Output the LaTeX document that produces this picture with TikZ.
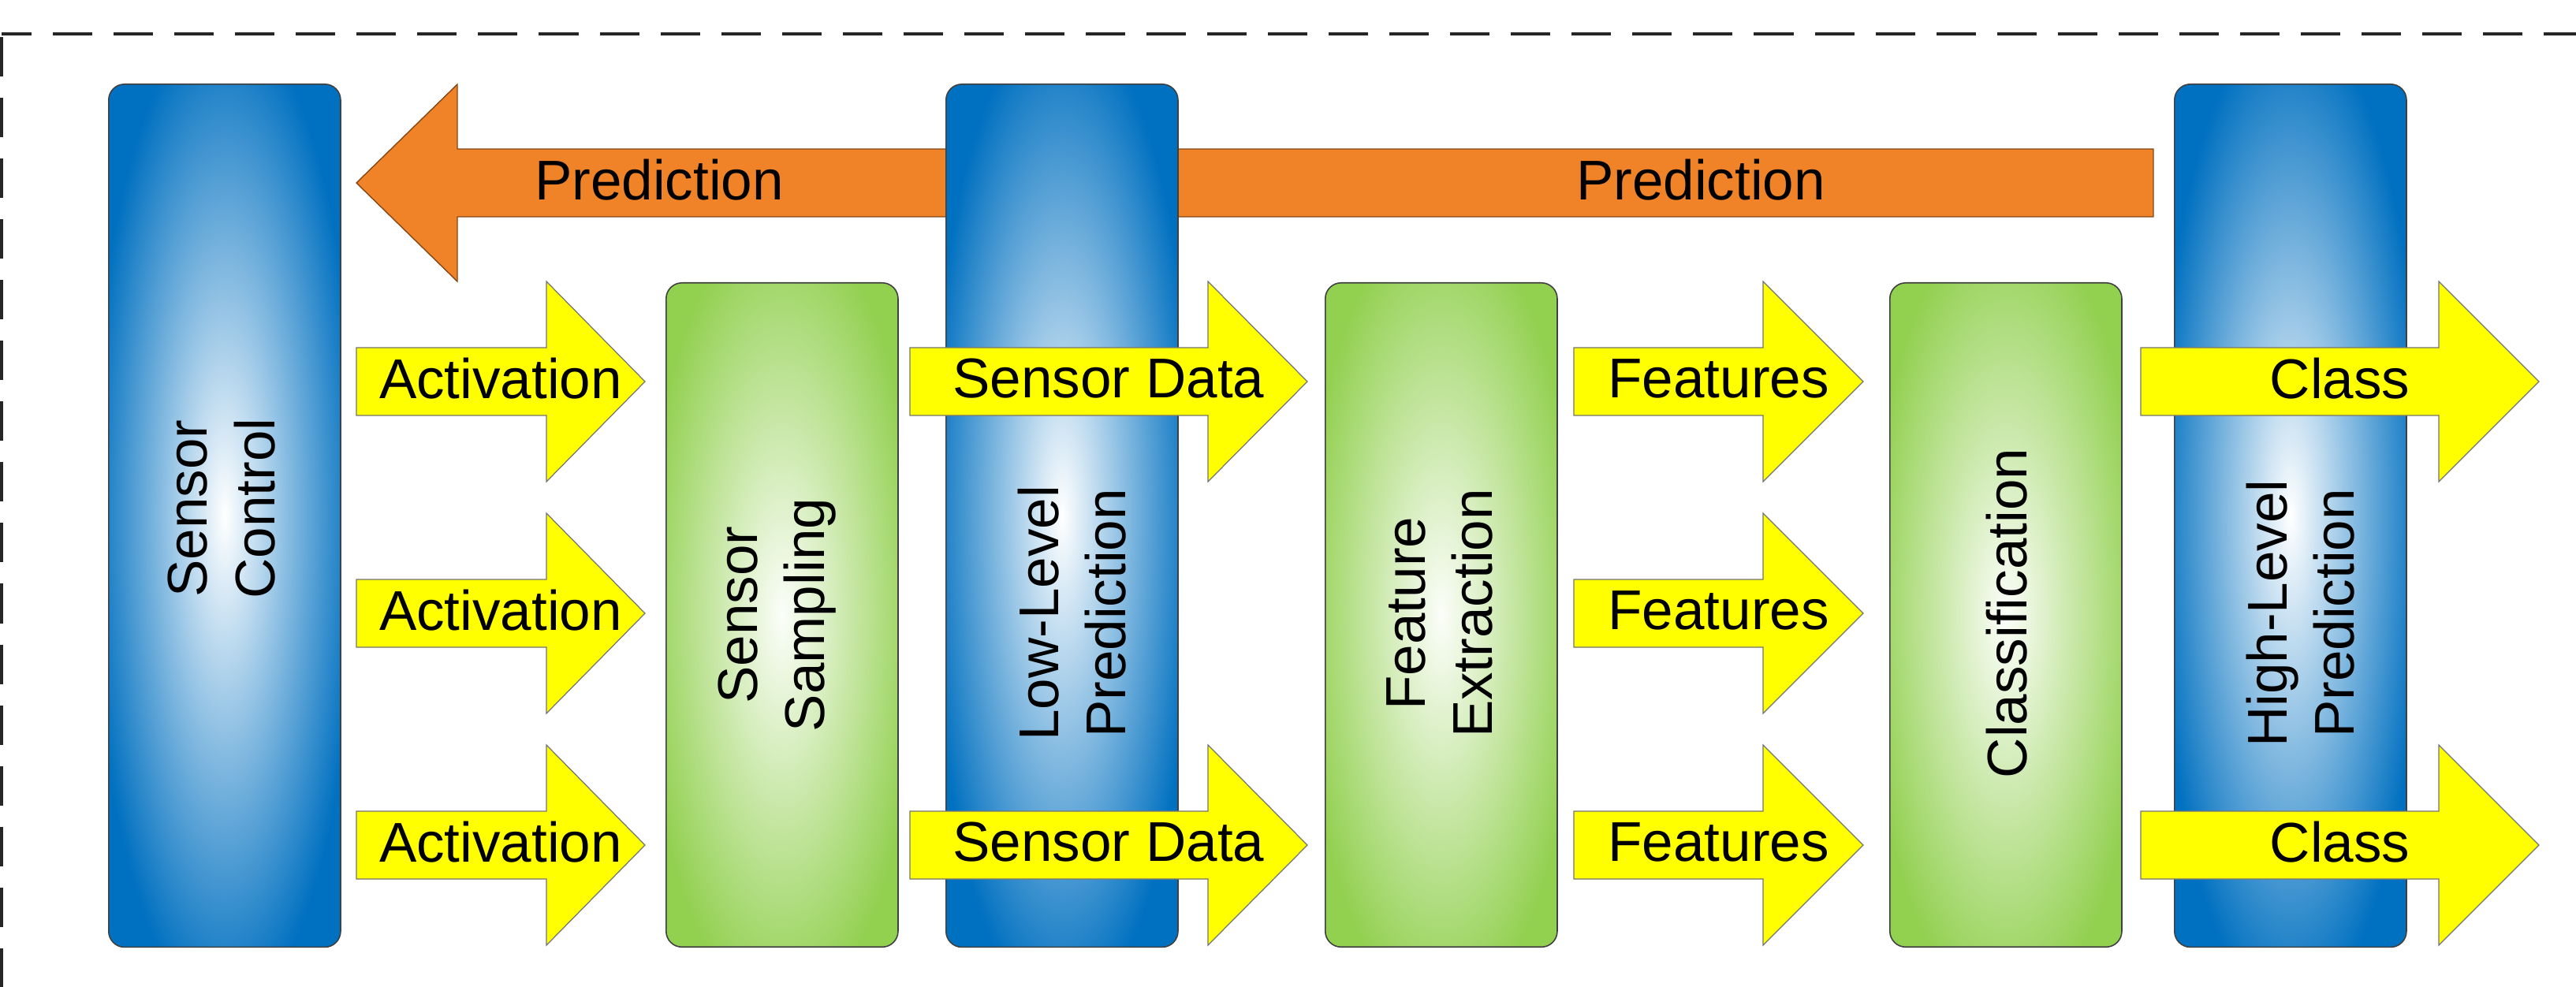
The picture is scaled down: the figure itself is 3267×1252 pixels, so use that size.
\documentclass[tikz,border=0pt]{standalone}
\usepackage{fontspec}
\setmainfont{Liberation Sans}
\definecolor{blueC}{HTML}{0070C0}
\definecolor{greenC}{HTML}{92D050}
\definecolor{orangeC}{HTML}{F08228}
\definecolor{yellowC}{HTML}{FFFF00}
\colorlet{greenLight}{white!97!greenC}
\pgfdeclareradialshading{bluegrad}{\pgfpointorigin}{color(0bp)=(white); color(29bp)=(blueC); color(50bp)=(blueC)}
\pgfdeclareradialshading{greengrad}{\pgfpointorigin}{color(0bp)=(greenLight); color(30bp)=(greenC); color(50bp)=(greenC)}
\newcommand{\yarr}[6]{%
  \draw[yarrow] (#2,#5-43) -- (#3,#5-43) -- (#3,#5-127) -- (#4,#5) -- (#3,#5+127) -- (#3,#5+43) -- (#2,#5+43) -- cycle;
  \node[lbl] (#1) at ({(#2+#4)/2},#5-4) {#6};}
\begin{document}
\begin{tikzpicture}[x=0.01cm,y=-0.01cm,
  box/.style={draw=black!75, line width=0.45pt, rounded corners=5.7pt, minimum width=2.94cm, inner sep=0pt, anchor=north west},
  bluebox/.style={box, shading=bluegrad, minimum height=10.94cm},
  greenbox/.style={box, shading=greengrad, minimum height=8.42cm},
  lbl/.style={font=\fontsize{20.2}{24.2}\selectfont, align=center, inner sep=0pt, text=black},
  vlbl/.style={lbl, rotate=90},
  yarrow/.style={draw=black!55, line width=0.35pt, fill=yellowC},
  oarrow/.style={draw=orangeC!55!black, line width=0.4pt, fill=orangeC},
  border/.style={draw=black!85, line width=1.14pt, dash pattern=on 14.23pt off 7.68pt}]
\useasboundingbox (0,0) rectangle (3267,1252);
% dashed frame
\draw[border, dash phase=3.41pt] (2,43) -- (3267,43);
\draw[border, dash phase=20.77pt] (2,43) -- (2,1252);
% orange prediction arrow
\draw[oarrow] (2731,189) -- (580,189) -- (580,107) -- (452,232) -- (580,357) -- (580,275) -- (2731,275) -- cycle;
\node[lbl] (predL) at (836,228) {Prediction};
\node[lbl] (predR) at (2157,228) {Prediction};
% boxes
\node[bluebox] (sc) at (137,106) {};
\node[bluebox] (llp) at (1199,106) {};
\node[bluebox] (hlp) at (2757,106) {};
\node[greenbox] (ss) at (844,358) {};
\node[greenbox] (fe) at (1680,358) {};
\node[greenbox] (cl) at (2396,358) {};
\node[vlbl] (scT) at (281,645) {Sensor\\Control};
\node[vlbl] (ssT) at (986,780) {Sensor\\Sampling};
\node[vlbl] (llpT) at (1360,778) {Low-Level\\Prediction};
\node[vlbl] (feT) at (1826,778) {Feature\\Extraction};
\node[vlbl] (clT) at (2545,778) {Classification};
\node[vlbl] (hlpT) at (2918,778) {High-Level\\Prediction};
% yellow arrows
\yarr{act1}{452}{693}{818}{484}{Activation}
\yarr{act2}{452}{693}{818}{778}{Activation}
\yarr{act3}{452}{693}{818}{1072}{Activation}
\yarr{sd1}{1154}{1532}{1658}{484}{Sensor Data}
\yarr{sd2}{1154}{1532}{1658}{1072}{Sensor Data}
\yarr{ft1}{1996}{2236}{2363}{484}{Features}
\yarr{ft2}{1996}{2236}{2363}{778}{Features}
\yarr{ft3}{1996}{2236}{2363}{1072}{Features}
\yarr{cls1}{2715}{3093}{3220}{484}{Class}
\yarr{cls2}{2715}{3093}{3220}{1072}{Class}
\end{tikzpicture}
\end{document}
